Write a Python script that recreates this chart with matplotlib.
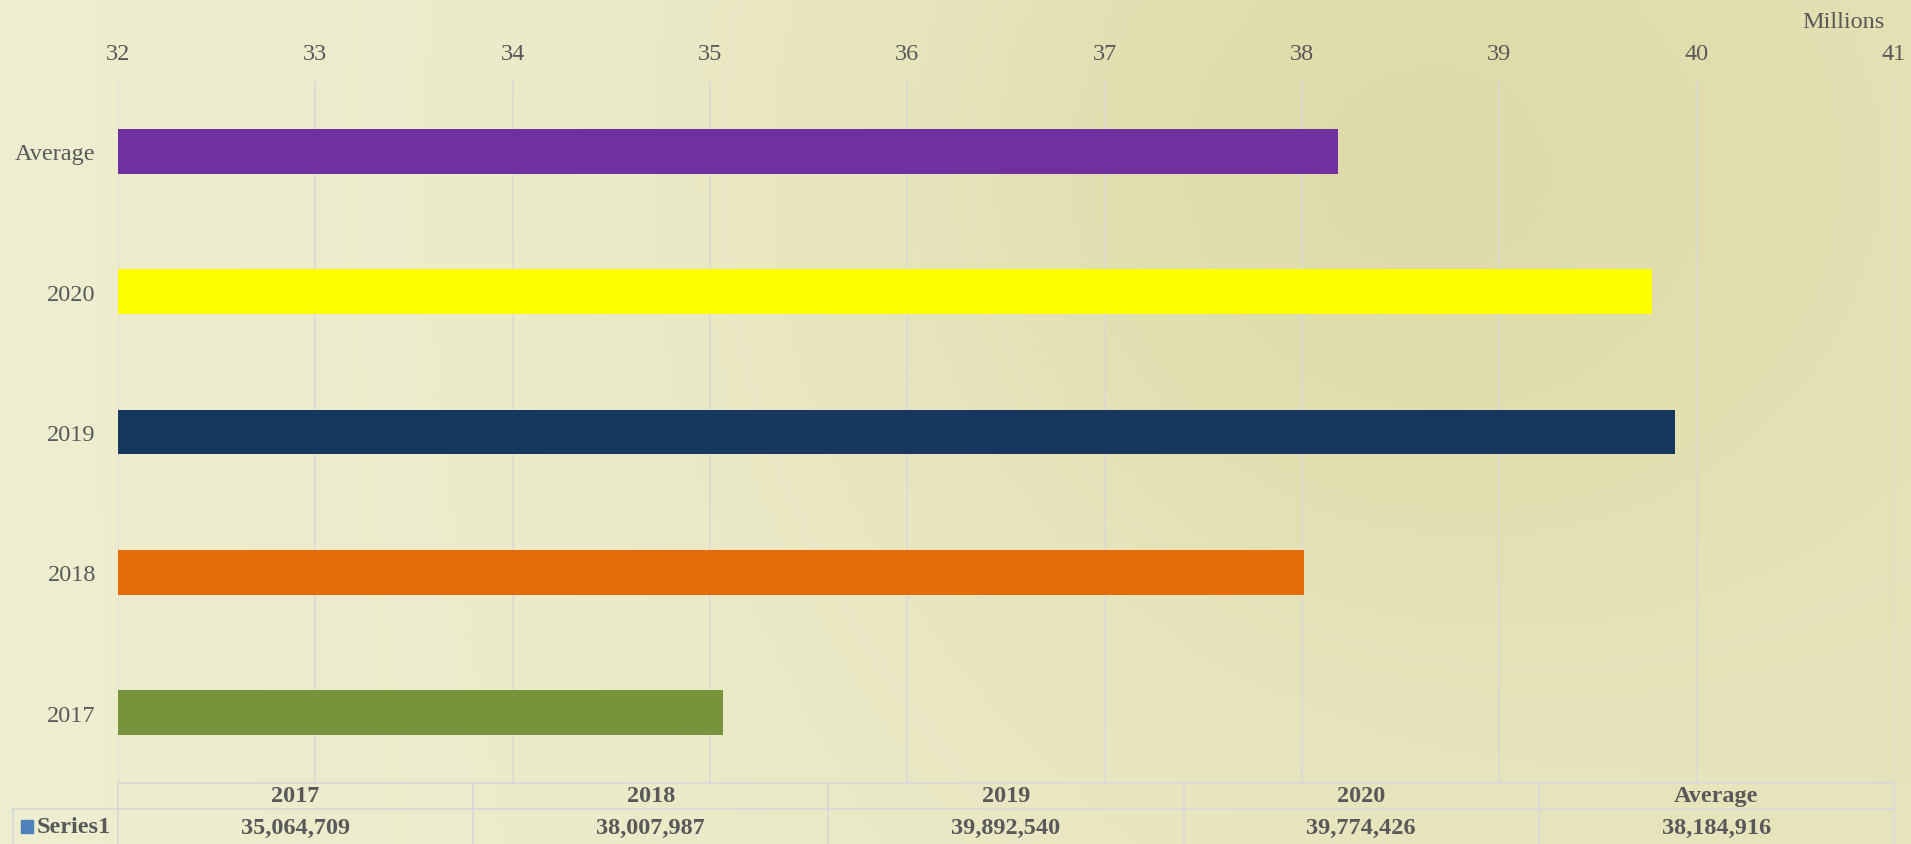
import numpy as np
import matplotlib
matplotlib.use("Agg")
import matplotlib.pyplot as plt
from matplotlib.patches import Rectangle
from matplotlib.lines import Line2D

# data
categories = ["2017", "2018", "2019", "2020", "Average"]
values = [35064709, 38007987, 39892540, 39774426, 38184916]
bar_colors = ["#77933C", "#E36C09", "#17375E", "#FFFF00", "#7030A0"]
series_name = "Series1"
x_ticks = [32, 33, 34, 35, 36, 37, 38, 39, 40, 41]

W, H = 1911, 845
plt.rcParams['font.family'] = ['Liberation Serif', 'DejaVu Serif']
txt_color = "#595959"
grid_color = "#D9D9D9"

fig = plt.figure(figsize=(W / 100, H / 100), dpi=100)

# textured cream/khaki background
bg = fig.add_axes([0, 0, 1, 1], zorder=-10)
xx, yy = np.meshgrid(np.linspace(0, 1, 400), np.linspace(0, 1, 200))
light = np.array([238, 238, 208]) / 255
dark = np.array([222, 218, 166]) / 255
f = 0.45 * xx + 0.6 * np.exp(-(((xx - 0.72) / 0.28) ** 2 + ((yy - 0.2) / 0.6) ** 2))
f = np.clip(f, 0, 1)
img = light[None, None, :] * (1 - f[..., None]) + dark[None, None, :] * f[..., None]
bg.imshow(img, aspect='auto', extent=[0, 1, 1, 0])
bg.axis('off')

# plot area in pixel terms
left, right, top, bottom = 118, 1894, 82, 784
ax = fig.add_axes([left / W, 1 - bottom / H, (right - left) / W, (bottom - top) / H])
ax.patch.set_alpha(0)

ypos = np.arange(len(categories))
ax.barh(ypos, np.array(values) / 1e6, height=0.32, color=bar_colors, zorder=3)
ax.set_xlim(x_ticks[0], x_ticks[-1])
ax.set_ylim(-0.5, len(categories) - 0.5)
ax.set_xticks(x_ticks)
ax.set_yticks(ypos)
ax.set_yticklabels(categories)
ax.xaxis.tick_top()
ax.tick_params(axis='x', length=0, pad=12, labelsize=17.5, colors=txt_color)
ax.tick_params(axis='y', length=0, pad=16, labelsize=17.5, colors=txt_color)
ax.grid(axis='x', color=grid_color, lw=1.1, zorder=0)
for s in ax.spines.values():
    s.set_visible(False)

fig.text(1885 / W, 1 - 22 / H, "Millions", ha='right', va='center',
         fontsize=17.5, color=txt_color)

# data table below the plot
def fx(px):
    return px / W

def fy(py):
    return 1 - py / H

row1, row2, row3 = 784, 810, 845
col_w = (right - left) / len(categories)
lw = 1.3
fig.add_artist(Line2D([fx(left), fx(right)], [fy(row1)] * 2, color=grid_color, lw=lw))
fig.add_artist(Line2D([fx(13), fx(right)], [fy(row2)] * 2, color=grid_color, lw=lw))
fig.add_artist(Line2D([fx(13), fx(13)], [fy(row2), fy(row3)], color=grid_color, lw=lw))
fig.add_artist(Line2D([fx(left), fx(left)], [fy(row1), fy(row3)], color=grid_color, lw=lw))
for i, (cat, v) in enumerate(zip(categories, values)):
    x1 = left + (i + 1) * col_w
    fig.add_artist(Line2D([fx(x1), fx(x1)], [fy(row1), fy(row3)], color=grid_color, lw=lw))
    cx = left + (i + 0.5) * col_w
    fig.text(fx(cx), fy(797), cat, ha='center', va='center', fontsize=17.5,
             fontweight='bold', color=txt_color)
    fig.text(fx(cx), fy(828), f"{v:,}", ha='center', va='center', fontsize=17.5,
             fontweight='bold', color=txt_color)

fig.add_artist(Rectangle((fx(21), fy(834)), fx(12), 13 / H, color="#4F81BD"))
fig.text(fx(37), fy(828), series_name, ha='left', va='center', fontsize=17.5,
         fontweight='bold', color=txt_color)

fig.savefig("out.png", dpi=100)
